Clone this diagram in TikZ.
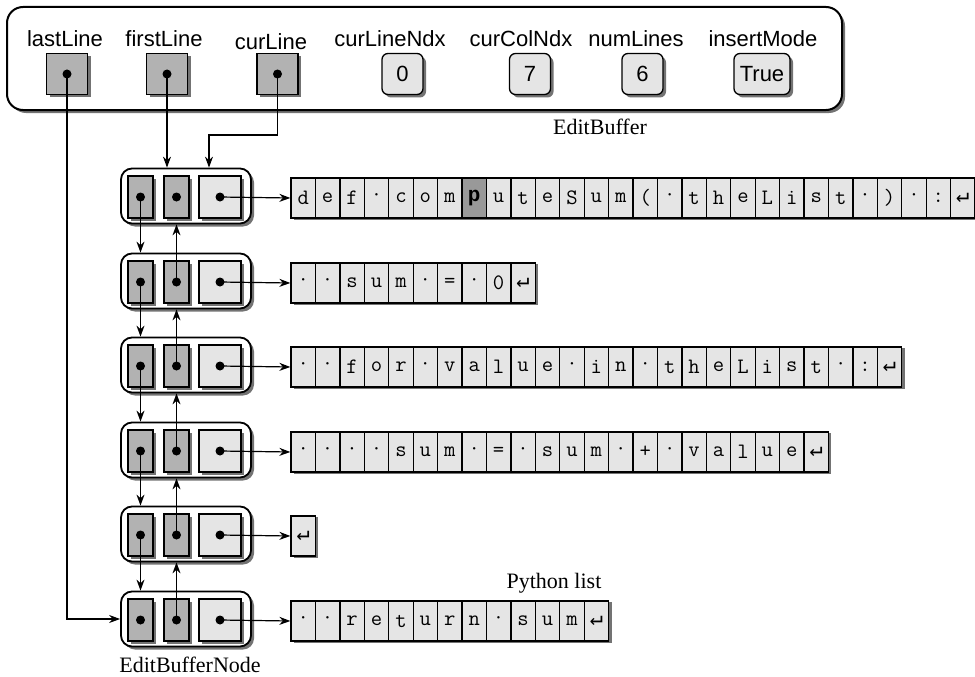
\documentclass[tikz,border=0pt]{standalone}
\usepackage{fontspec}
\setmainfont{Liberation Serif}
\setsansfont{Liberation Sans}
\newfontfamily\retfont{DejaVu Sans Mono}
\newfontfamily\boldmono{Liberation Mono}
\usetikzlibrary{shadows,arrows.meta}
\newcommand{\rt}{{\retfont\fontsize{22}{22}\selectfont ↵}}
\newcommand{\md}{·}
\newcommand{\strrow}[3]{%
  \fill[black!55] (294,#2-17) rectangle ({294+24.43*#3},#2+24);
  \foreach \c [count=\i from 0] in {#1} {
    \node[chcell] (s#3r\i) at ({291+12.215+24.43*\i},#2+2) {\c};
  }
}
\begin{document}
\begin{tikzpicture}[x=1pt,y=-1pt,
  shd/.style={drop shadow={shadow xshift=3pt,shadow yshift=-3pt,fill=black!55,opacity=1}},
  ptrbox/.style={draw,line width=1.3pt,fill=black!30,minimum width=41pt,minimum height=41pt,inner sep=0pt,shd},
  valbox/.style={draw,line width=1.3pt,fill=black!10,rounded corners=6pt,minimum width=41pt,minimum height=41pt,inner sep=0pt,font=\sffamily\fontsize{22}{22}\selectfont,shd},
  lbl/.style={font=\sffamily\fontsize{22}{22}\selectfont,anchor=base,inner sep=0pt},
  captxt/.style={font=\fontsize{22}{22}\selectfont,anchor=base,inner sep=0pt},
  outerbox/.style={draw,line width=1.8pt,fill=white,rounded corners=11pt,minimum width=130pt,minimum height=55pt,inner sep=0pt,shd},
  linkcell/.style={draw,line width=1.3pt,fill=black!30,minimum width=25pt,minimum height=42pt,inner sep=0pt,shd},
  datacell/.style={draw,line width=1.3pt,fill=black!10,minimum width=42pt,minimum height=42pt,inner sep=0pt,shd},
  chcell/.style={draw,line width=1.3pt,fill=black!10,minimum width=24.43pt,minimum height=40pt,inner sep=0pt,font=\ttfamily\fontsize{22}{22}\selectfont},
  dot/.style={circle,fill=black,inner sep=0pt,minimum size=9pt},
  link/.style={line width=1.2pt,-{Stealth[length=11pt,width=8pt]}}
]
\useasboundingbox (0,0) rectangle (975,677);

% EditBuffer
\node[draw,line width=2pt,fill=white,rounded corners=16pt,minimum width=835pt,minimum height=103pt,inner sep=0pt,shd] (eb) at (424.5,58.5) {};
\node[lbl] (l1) at (65,47) {lastLine};
\node[lbl] (l2) at (164,47) {firstLine};
\node[lbl] (l3) at (271,50) {curLine};
\node[lbl] (l4) at (390,47) {curLineNdx};
\node[lbl] (l5) at (521,47) {curColNdx};
\node[lbl] (l6) at (636,47) {numLines};
\node[lbl] (l7) at (763,47) {insertMode};
\node[ptrbox] (pl) at (67,74) {};
\node[ptrbox] (pf) at (167,74) {};
\node[ptrbox] (pc) at (277.5,74) {};
\node[dot] (dl) at (pl) {};
\node[dot] (df) at (pf) {};
\node[dot] (dc) at (pc) {};
\node[valbox] (v1) at (402.5,74) {0};
\node[valbox] (v2) at (530,74) {7};
\node[valbox] (v3) at (642.5,74) {6};
\node[valbox,minimum width=56pt] (v4) at (762,74) {True};
\node[captxt] (ebl) at (600,134) {EditBuffer};

% nodes
\foreach \k/\y in {1/196,2/281,3/365,4/450,5/534,6/619}{
  \node[outerbox] (n\k) at (186,\y) {};
  \node[linkcell] (n\k a) at (140.5,\y+1) {};
  \node[linkcell] (n\k b) at (176.5,\y+1) {};
  \node[datacell] (n\k c) at (220,\y+1) {};
  \node[dot] (n\k ad) at (140.5,\y+1) {};
  \node[dot] (n\k bd) at (176.5,\y+1) {};
  \node[dot] (n\k cd) at (220,\y+1) {};
}

% strings
\strrow{d,e,f,\md,c,o,m,p,u,t,e,S,u,m,{(},\md,t,h,e,L,i,s,t,\md,{)},\md,:,\rt}{196}{28}
\strrow{\md,\md,s,u,m,\md,=,\md,0,\rt}{281}{10}
\strrow{\md,\md,f,o,r,\md,v,a,l,u,e,\md,i,n,\md,t,h,e,L,i,s,t,\md,:,\rt}{365}{25}
\strrow{\md,\md,\md,\md,s,u,m,\md,=,\md,s,u,m,\md,+,\md,v,a,l,u,e,\rt}{450}{22}
\strrow{\rt}{534}{1}
\strrow{\md,\md,r,e,t,u,r,n,\md,s,u,m,\rt}{619}{13}
\node[chcell,fill=black!40,font=\boldmono\bfseries\fontsize{21}{21}\selectfont] (hp) at (s28r7) {p};

\node[captxt] (pyl) at (554,588) {Python list};
\node[captxt] (ebn) at (190,672) {EditBufferNode};

% data links
\draw[link] (n1cd.center) -- (s28r0.west);
\draw[link] (n2cd.center) -- (s10r0.west);
\draw[link] (n3cd.center) -- (s25r0.west);
\draw[link] (n4cd.center) -- (s22r0.west);
\draw[link] (n5cd.center) -- (s1r0.west);
\draw[link] (n6cd.center) -- (s13r0.west);

% next / prev links
\foreach \k/\j in {1/2,2/3,3/4,4/5,5/6}{
  \draw[link] (n\k ad.center) -- (n\j.north -| n\k ad);
  \draw[link] (n\j bd.center) -- (n\k.south -| n\j bd);
}

% head pointers
\draw[link] (dl.center) |- (n6.west);
\draw[link] (df.center) -- (n1.north -| df);
\coordinate (cb) at (209,135);
\draw[link] (dc.center) |- (cb) -- (cb |- n1.north);
\end{tikzpicture}
\end{document}
